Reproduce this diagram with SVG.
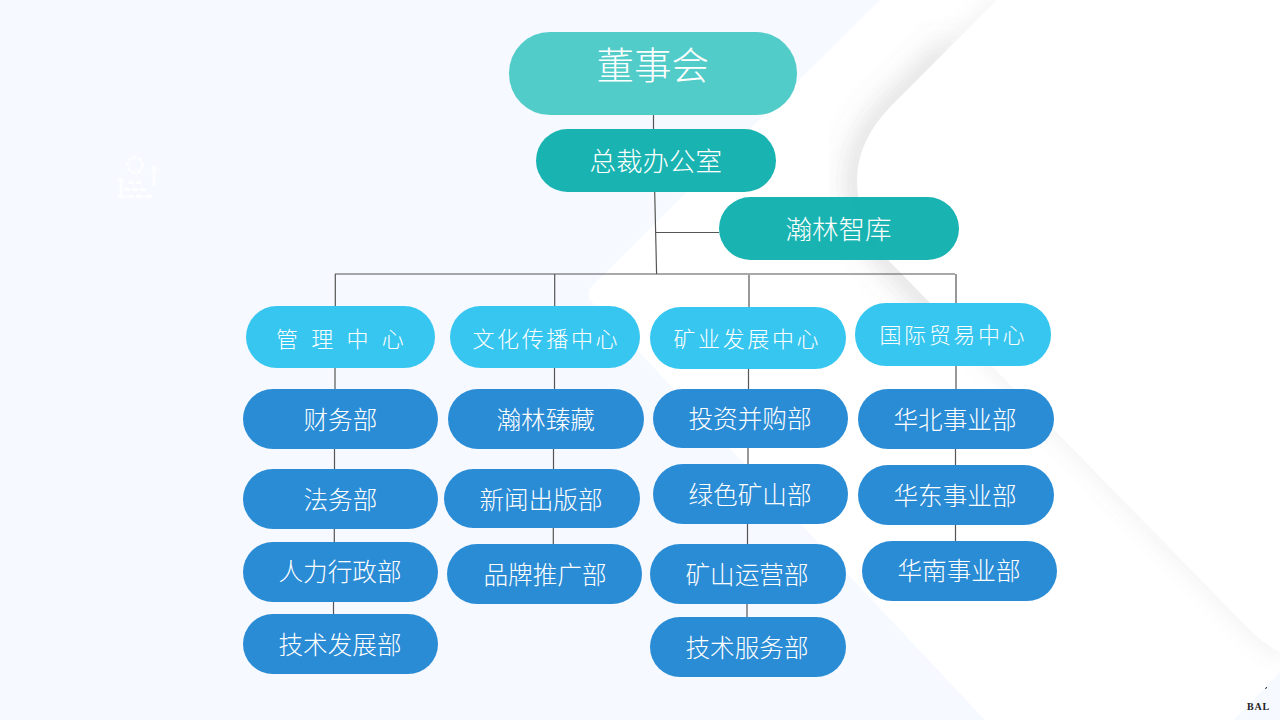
<svg xmlns="http://www.w3.org/2000/svg" width="1280" height="720" viewBox="0 0 1280 720">
<style>
text{font-family:"Noto Sans CJK SC","Noto Sans",sans-serif;fill:#fff;font-weight:300}
.n{stroke:none;fill-opacity:.95}
.a{fill:#49c9c6}.b{fill:#0db0ae}.c{fill:#2bc3ef}.d{fill:#1f86d3}
.t{font-size:24.6px}.u{font-size:22px;letter-spacing:2.6px}.e{font-size:26.5px}
.l{fill:none;stroke:#555;stroke-width:1.2}
.g{fill:#fff;fill-opacity:.8}
</style>
<defs>
<filter id="blur" x="-30%" y="-30%" width="160%" height="160%"><feGaussianBlur stdDeviation="15"/></filter>
<filter id="blur2" x="-30%" y="-30%" width="160%" height="160%"><feGaussianBlur stdDeviation="9"/></filter>
</defs>
<g id="background">
<rect width="1280" height="720" fill="#f6f9ff"/>
<path d="M880 0L594 284Q583 294 594 304L985 720L1280 720L1280 0Z" fill="#fff"/>
<path d="M950 47L890 107Q857 142 857 180Q857 225 890 262L950 323" fill="none" stroke="#777" stroke-width="16" stroke-opacity=".26" filter="url(#blur)"/>
<path d="M1000 -3L890 107Q857 142 857 180Q857 225 890 262L1253 633Q1266 645 1285 655" fill="none" stroke="#888" stroke-width="8" stroke-opacity=".17" filter="url(#blur2)"/>
<path d="M997 0L890 107Q857 142 857 180Q857 225 890 262L1253 633Q1266 645 1280 652L1280 720L1240 720L1280 680L1280 0Z" fill="#fff"/>
<path d="M1280 672L1234 720L1280 720Z" fill="#f6f9ff"/>
<text x="1247" y="710" style="font-family:'Liberation Serif',serif;font-weight:700;font-size:10px;letter-spacing:.8px;fill:#222">BAL</text>
<path d="M1265.500 689L1266.700 687" stroke="#222" stroke-width="1" fill="none"/>
</g>
<g id="icon">
<circle cx="135" cy="165" r="7.500" fill="none" stroke="#fff" stroke-width="2.500" stroke-dasharray="4 1.500" stroke-opacity=".85"/>
<path class="g" d="M117 182l4-5 4 5h-2.500v14h-3v-14zM150 170l4-5 4 5h-2.500v16h-3v-16z"/>
<path class="g" d="M129 181h5v3h-5zM136 181h5v3h-5zM124 188h6v3h-6zM132 188h6v3h-6zM140 188h6v3h-6zM118 195h7v3h-7zM127 195h7v3h-7zM136 195h7v3h-7zM145 195h7v3h-7z"/>
</g>
<g id="connectors">
<path class="l" d="M653.500 115V129M654.700 192L656.600 274M656 232.500H719M335 274H955M335.300 274V306M554.700 274V306M749 275V307M956 274V303"/>
<path class="l" d="M335 368V389M334.500 449V469M334.300 529V542M333.500 602V614"/>
<path class="l" d="M554.500 368V389M553.500 449V469M553.300 528V544"/>
<path class="l" d="M748.500 368V389M748 448V464M747.500 524V544M747 604V617"/>
<path class="l" d="M956 366V389M955.500 449V465M955.500 525V541"/>
</g>
<g id="n-board"><rect class="n a" x="509" y="32" width="288" height="83" rx="41"/><text x="596.500" y="79" style="font-size:37.500px">董事会</text></g>
<g id="n-office"><rect class="n b" x="536" y="129" width="240" height="63" rx="31.500"/><text class="e" x="589.500" y="170.500">总裁办公室</text></g>
<g id="n-think"><rect class="n b" x="719" y="197" width="240" height="63" rx="31.500"/><text class="e" x="785.500" y="238.500">瀚林智库</text></g>
<g id="n-c1"><rect class="n c" x="246" y="306" width="189" height="62" rx="31"/><text class="u" x="276" y="347" style="letter-spacing:4.200px" xml:space="preserve">管 理 中 心</text></g>
<g id="n-c2"><rect class="n c" x="450" y="306" width="190" height="62" rx="31"/><text class="u" x="472.500" y="347">文化传播中心</text></g>
<g id="n-c3"><rect class="n c" x="650" y="307" width="196" height="62" rx="31"/><text class="u" x="673.500" y="347">矿业发展中心</text></g>
<g id="n-c4"><rect class="n c" x="855" y="303" width="196" height="63" rx="31"/><text class="u" x="879.500" y="343">国际贸易中心</text></g>
<g id="n-d11"><rect class="n d" x="243" y="389" width="195" height="60" rx="30"/><text class="t" x="303.500" y="429">财务部</text></g>
<g id="n-d12"><rect class="n d" x="243" y="469" width="195" height="60" rx="30"/><text class="t" x="303.500" y="508.500">法务部</text></g>
<g id="n-d13"><rect class="n d" x="243" y="542" width="195" height="60" rx="30"/><text class="t" x="278.500" y="581">人力行政部</text></g>
<g id="n-d14"><rect class="n d" x="243" y="614" width="195" height="60" rx="30"/><text class="t" x="278.500" y="654">技术发展部</text></g>
<g id="n-d21"><rect class="n d" x="448" y="389" width="196" height="60" rx="30"/><text class="t" x="496.500" y="429">瀚林臻藏</text></g>
<g id="n-d22"><rect class="n d" x="444" y="469" width="196" height="59" rx="29.500"/><text class="t" x="479.500" y="508.500">新闻出版部</text></g>
<g id="n-d23"><rect class="n d" x="447" y="544" width="195" height="60" rx="30"/><text class="t" x="483.500" y="584">品牌推广部</text></g>
<g id="n-d31"><rect class="n d" x="653" y="389" width="195" height="59" rx="29.500"/><text class="t" x="688.500" y="428">投资并购部</text></g>
<g id="n-d32"><rect class="n d" x="653" y="464" width="195" height="60" rx="30"/><text class="t" x="688.500" y="503.500">绿色矿山部</text></g>
<g id="n-d33"><rect class="n d" x="650" y="544" width="196" height="60" rx="30"/><text class="t" x="685.500" y="583.500">矿山运营部</text></g>
<g id="n-d34"><rect class="n d" x="650" y="617" width="196" height="60" rx="30"/><text class="t" x="685.500" y="657">技术服务部</text></g>
<g id="n-d41"><rect class="n d" x="858" y="389" width="196" height="60" rx="30"/><text class="t" x="893.500" y="429">华北事业部</text></g>
<g id="n-d42"><rect class="n d" x="858" y="465" width="196" height="60" rx="30"/><text class="t" x="893.500" y="505">华东事业部</text></g>
<g id="n-d43"><rect class="n d" x="862" y="541" width="195" height="60" rx="30"/><text class="t" x="897.500" y="580">华南事业部</text></g>
</svg>
